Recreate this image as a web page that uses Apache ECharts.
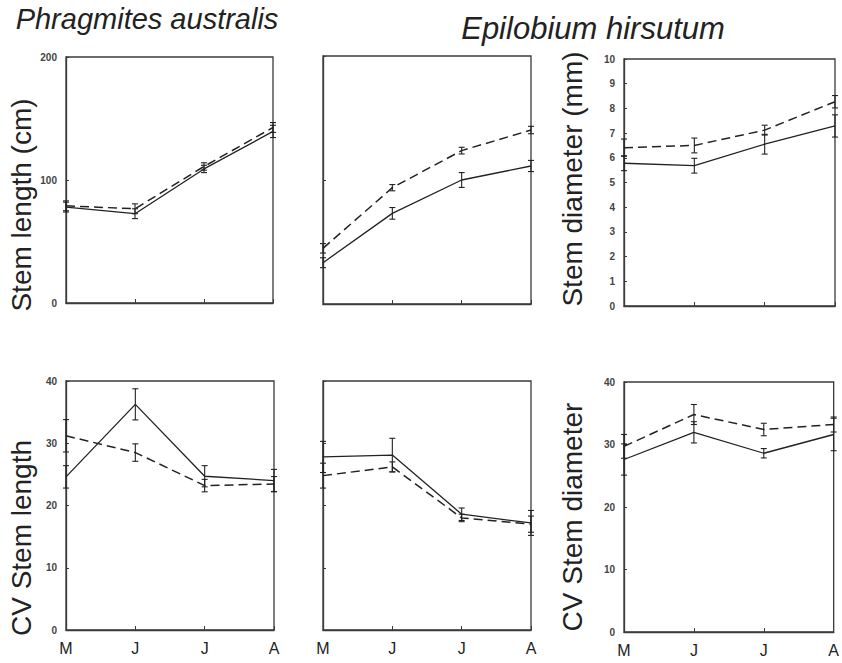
<!DOCTYPE html>
<html><head><meta charset="utf-8">
<script src="https://cdn.jsdelivr.net/npm/echarts@6/dist/echarts.min.js"></script>
<style>html,body{margin:0;padding:0;background:#fff}#c{width:842px;height:663px}</style>
</head><body><div id="c"></div>
<script>
// ---- Data ----
const months = ['M', 'J', 'J', 'A'];

// Phragmites australis – Stem length (cm)
const phrLenSolid = [78, 72.6, 109, 139.5];
const phrLenSolidErr = [4, 4, 3, 5];
const phrLenDashed = [79, 76.6, 111, 142.7];
const phrLenDashedErr = [4, 4, 3, 4];

// Epilobium hirsutum – Stem length (cm)
const epiLenSolid = [33.3, 73.1, 100, 111.3];
const epiLenSolidErr = [4, 4.7, 6, 4.5];
const epiLenDashed = [44.9, 93.8, 123.7, 140.3];
const epiLenDashedErr = [3.8, 2.5, 2.7, 3];

// Epilobium hirsutum – Stem diameter (mm)
const epiDiaSolid = [5.78, 5.68, 6.55, 7.29];
const epiDiaSolidErr = [0.3, 0.3, 0.4, 0.45];
const epiDiaDashed = [6.41, 6.5, 7.12, 8.27];
const epiDiaDashedErr = [0.35, 0.3, 0.2, 0.25];

// Phragmites australis – CV Stem length
const phrCvLenSolid = [24.6, 36.25, 24.7, 24.0];
const phrCvLenSolidErr = [1.8, 2.5, 1.7, 1.8];
const phrCvLenDashed = [31.2, 28.5, 23.2, 23.45];
const phrCvLenDashedErr = [2.6, 1.4, 1.0, 1.2];

// Epilobium hirsutum – CV Stem length
const epiCvLenSolid = [27.8, 28.1, 18.6, 17.2];
const epiCvLenSolidErr = [2.5, 2.7, 1.0, 2.0];
const epiCvLenDashed = [24.8, 26.2, 18.0, 17.0];
const epiCvLenDashedErr = [2.0, 0.8, 0.6, 1.3];

// Epilobium hirsutum – CV Stem diameter
const epiCvDiaSolid = [27.6, 31.95, 28.6, 31.6];
const epiCvDiaSolidErr = [2.5, 1.7, 0.75, 2.6];
const epiCvDiaDashed = [29.7, 34.8, 32.4, 33.2];
const epiCvDiaDashedErr = [1.9, 1.6, 1.0, 1.2];

// Axis ranges / tick labels
const lenTicks = [0, 100, 200];
const diaTicks = [0, 1, 2, 3, 4, 5, 6, 7, 8, 9, 10];
const cvTicks = [0, 10, 20, 30, 40];

// ---- Layout ----
const panels = [
  {grid:{left:66, top:57, width:207, height:246}, ticks:lenTicks, showY:true, showX:false,
   solid:phrLenSolid, solidErr:phrLenSolidErr, dashed:phrLenDashed, dashedErr:phrLenDashedErr},
  {grid:{left:323, top:56, width:208, height:248}, ticks:lenTicks, showY:false, showX:false,
   solid:epiLenSolid, solidErr:epiLenSolidErr, dashed:epiLenDashed, dashedErr:epiLenDashedErr},
  {grid:{left:624, top:59, width:211, height:247}, ticks:diaTicks, showY:true, showX:false,
   solid:epiDiaSolid, solidErr:epiDiaSolidErr, dashed:epiDiaDashed, dashedErr:epiDiaDashedErr},
  {grid:{left:66, top:381, width:208, height:249}, ticks:cvTicks, showY:true, showX:true,
   solid:phrCvLenSolid, solidErr:phrCvLenSolidErr, dashed:phrCvLenDashed, dashedErr:phrCvLenDashedErr},
  {grid:{left:323, top:381, width:208, height:249}, ticks:cvTicks, showY:false, showX:true,
   solid:epiCvLenSolid, solidErr:epiCvLenSolidErr, dashed:epiCvLenDashed, dashedErr:epiCvLenDashedErr},
  {grid:{left:624, top:382, width:210, height:250}, ticks:cvTicks, showY:true, showX:true,
   solid:epiCvDiaSolid, solidErr:epiCvDiaSolidErr, dashed:epiCvDiaDashed, dashedErr:epiCvDiaDashedErr}
];

const INK = '#222';
const AXIS = '#3a3a3a';

function errItem(params, api) {
  const x = api.value(0), y = api.value(1), e = api.value(2);
  const top = api.coord([x, y + e]);
  const bot = api.coord([x, y - e]);
  const w = 3;
  const st = {stroke: INK, lineWidth: 1.1};
  return {type: 'group', children: [
    {type: 'line', shape: {x1: top[0], y1: top[1], x2: bot[0], y2: bot[1]}, style: st},
    {type: 'line', shape: {x1: top[0] - w, y1: top[1], x2: top[0] + w, y2: top[1]}, style: st},
    {type: 'line', shape: {x1: bot[0] - w, y1: bot[1], x2: bot[0] + w, y2: bot[1]}, style: st}
  ]};
}

const grids = [], xAxes = [], yAxes = [], series = [];
panels.forEach((p, i) => {
  grids.push(Object.assign({show: true, borderColor: AXIS, borderWidth: 1.3, backgroundColor: 'transparent'}, p.grid));
  xAxes.push({
    type: 'category', gridIndex: i, data: months, boundaryGap: false,
    axisLine: {show: true, lineStyle: {color: AXIS, width: 1.3}},
    axisTick: {show: true, inside: true, length: 4, lineStyle: {color: AXIS}},
    axisLabel: {show: p.showX, color: INK, fontSize: 16, margin: 10, fontFamily: 'Liberation Sans'},
    splitLine: {show: false}
  });
  const t = p.ticks;
  yAxes.push({
    type: 'value', gridIndex: i, min: t[0], max: t[t.length - 1], interval: t[1] - t[0],
    axisLine: {show: true, lineStyle: {color: AXIS, width: 1.3}},
    axisTick: {show: true, inside: true, length: 3, lineStyle: {color: AXIS}},
    axisLabel: {show: p.showY, color: '#444', fontSize: 10, fontWeight: 'bold', margin: 9, fontFamily: 'Liberation Sans'},
    splitLine: {show: false}
  });
  series.push({
    type: 'line', xAxisIndex: i, yAxisIndex: i, data: p.solid, symbol: 'none',
    lineStyle: {color: INK, width: 1.3, type: 'solid'}, silent: true, animation: false
  });
  series.push({
    type: 'line', xAxisIndex: i, yAxisIndex: i, data: p.dashed, symbol: 'none',
    lineStyle: {color: INK, width: 1.5, type: [9, 5]}, silent: true, animation: false
  });
  series.push({
    type: 'custom', xAxisIndex: i, yAxisIndex: i, clip: false, renderItem: errItem,
    encode: {x: 0, y: 1}, data: p.solid.map((v, k) => [k, v, p.solidErr[k]]), silent: true, animation: false
  });
  series.push({
    type: 'custom', xAxisIndex: i, yAxisIndex: i, clip: false, renderItem: errItem,
    encode: {x: 0, y: 1}, data: p.dashed.map((v, k) => [k, v, p.dashedErr[k]]), silent: true, animation: false
  });
});

function vText(text, x, y) {
  return {type: 'text', x: x, y: y, rotation: Math.PI / 2,
    style: {text: text, fill: INK, font: '28px "Liberation Sans"', textAlign: 'center', textVerticalAlign: 'middle'}};
}

const graphics = [
  {type: 'text', x: 147, y: 19, style: {text: 'Phragmites australis', fill: INK, font: 'italic 29px "Liberation Sans"', textAlign: 'center', textVerticalAlign: 'middle'}},
  {type: 'text', x: 593, y: 28, style: {text: 'Epilobium hirsutum', fill: INK, font: 'italic 31px "Liberation Sans"', textAlign: 'center', textVerticalAlign: 'middle'}},
  vText('Stem length (cm)', 21, 205),
  vText('Stem diameter (mm)', 572, 179),
  vText('CV Stem length', 21, 538),
  vText('CV Stem diameter', 572, 517)
];

const chart = echarts.init(document.getElementById('c'), null, {renderer: 'svg'});
chart.setOption({
  animation: false,
  backgroundColor: '#fff',
  grid: grids, xAxis: xAxes, yAxis: yAxes, series: series,
  graphic: graphics
});
</script>
</body></html>
